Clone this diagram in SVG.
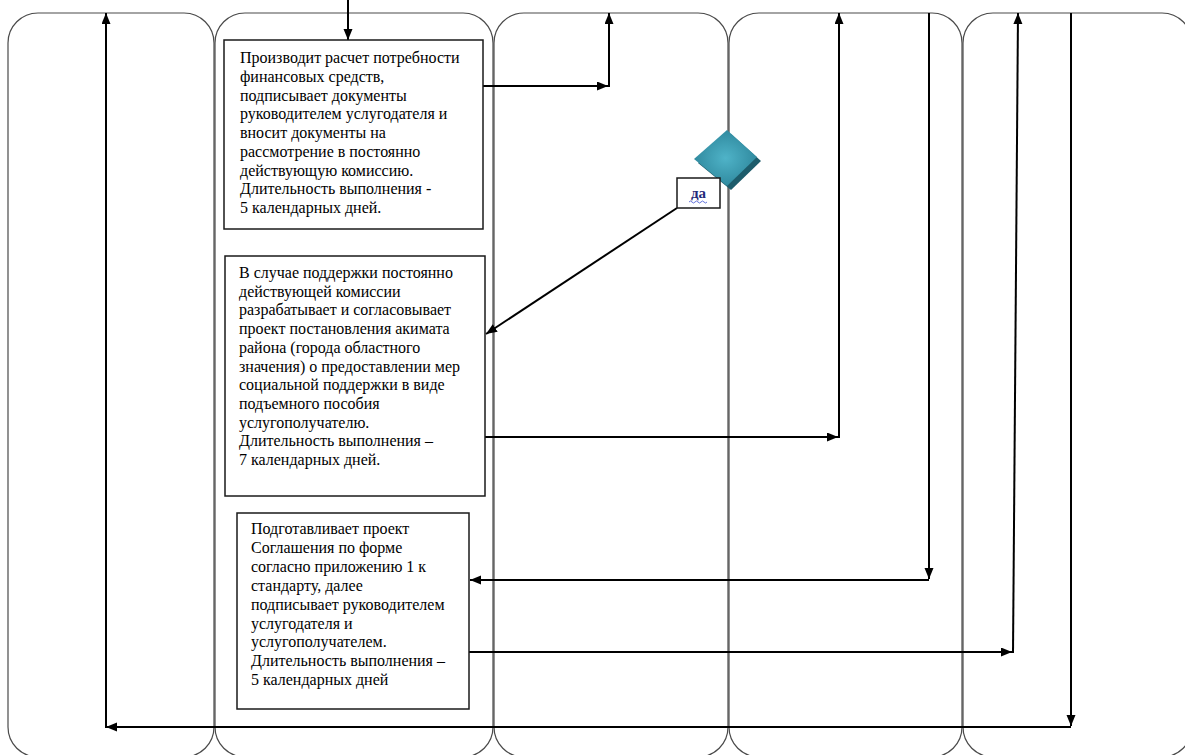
<svg xmlns="http://www.w3.org/2000/svg" width="1185" height="755" viewBox="0 0 1185 755">
<style>
.lane{fill:none;stroke:#4a4a4a;stroke-width:1.2}
.box{fill:#fff;stroke:#1a1a1a;stroke-width:1.5}
.t{font-family:"Liberation Serif","Times New Roman",serif;font-size:16px;fill:#000}
.ca{fill:none;stroke:#000;stroke-width:2;marker-end:url(#ah)}
</style>
<defs>
<marker id="ah" markerUnits="userSpaceOnUse" markerWidth="12" markerHeight="10" refX="11" refY="4.5" orient="auto"><path d="M0,0 L11,4.5 L0,9 z" fill="#000"/></marker>
<radialGradient id="dg" cx="0.5" cy="0.5" r="0.6"><stop offset="0" stop-color="#4fb3c8"/><stop offset="1" stop-color="#2a8297"/></radialGradient>
</defs>
<rect width="1185" height="755" fill="#fff"/>
<g id="lanes">
<rect id="lane1" class="lane" x="8" y="13" width="206" height="744" rx="30" ry="30"/>
<rect id="lane2" class="lane" x="215" y="13" width="278" height="744" rx="30" ry="30"/>
<rect id="lane3" class="lane" x="494" y="13" width="234" height="744" rx="30" ry="30"/>
<rect id="lane4" class="lane" x="729" y="13" width="233" height="744" rx="30" ry="30"/>
<rect id="lane5" class="lane" x="963" y="13" width="229" height="744" rx="30" ry="30"/>
</g>
<g id="connectors">
<line class="ca" x1="348" y1="0" x2="348" y2="40"/>
<line class="ca" x1="483" y1="86" x2="608" y2="86"/>
<line class="ca" x1="609" y1="87" x2="609" y2="13"/>
<line class="ca" x1="677" y1="208" x2="486" y2="334"/>
<line class="ca" x1="485" y1="437" x2="838" y2="437"/>
<line class="ca" x1="839" y1="438" x2="839" y2="13"/>
<line class="ca" x1="929" y1="13" x2="929" y2="579"/>
<line class="ca" x1="929" y1="580" x2="470" y2="580"/>
<line class="ca" x1="469" y1="652" x2="1012" y2="652"/>
<line class="ca" x1="1013" y1="653" x2="1018" y2="13"/>
<line class="ca" x1="1071" y1="13" x2="1071" y2="726"/>
<line class="ca" x1="1071" y1="727" x2="106" y2="727"/>
<line class="ca" x1="106" y1="728" x2="106" y2="13"/>
</g>
<g id="box1">
<rect class="box" x="224" y="40" width="259" height="189"/>
<text class="t" x="240" y="63">Производит расчет потребности</text>
<text class="t" x="240" y="81.75">финансовых средств,</text>
<text class="t" x="240" y="100.5">подписывает документы</text>
<text class="t" x="240" y="119.25">руководителем услугодателя и</text>
<text class="t" x="240" y="138">вносит документы на</text>
<text class="t" x="240" y="156.75">рассмотрение в постоянно</text>
<text class="t" x="240" y="175.5">действующую комиссию.</text>
<text class="t" x="240" y="194.25">Длительность выполнения -</text>
<text class="t" x="240" y="213">5 календарных дней.</text>
</g>
<g id="decision">
<polygon points="731,134 761,161 731,190 698,163" fill="#1d5c6b"/>
<polygon points="727,130 757,157 727,186 694,159" fill="url(#dg)"/>
</g>
<g id="label-da">
<rect class="box" x="677" y="178" width="43" height="30" stroke-width="1.3"/>
<text x="698.5" y="198" text-anchor="middle" font-family="Liberation Serif, Times New Roman, serif" font-size="15" font-weight="bold" fill="#1f2a7a">да</text>
<path d="M689,202 q1.5,-2 3,0 t3,0 t3,0 t3,0 t3,0 t3,0" fill="none" stroke="#3b4fd0" stroke-width="0.8"/>
</g>
<g id="box2">
<rect class="box" x="225" y="256" width="260" height="240"/>
<text class="t" x="239" y="278">В случае поддержки постоянно</text>
<text class="t" x="239" y="296.7">действующей комиссии</text>
<text class="t" x="239" y="315.4">разрабатывает и согласовывает</text>
<text class="t" x="239" y="334.1">проект постановления акимата</text>
<text class="t" x="239" y="352.8">района (города областного</text>
<text class="t" x="239" y="371.5">значения) о предоставлении мер</text>
<text class="t" x="239" y="390.2">социальной поддержки в виде</text>
<text class="t" x="239" y="408.9">подъемного пособия</text>
<text class="t" x="239" y="427.6">услугополучателю.</text>
<text class="t" x="239" y="446.3">Длительность выполнения –</text>
<text class="t" x="239" y="465">7 календарных дней.</text>
</g>
<g id="box3">
<rect class="box" x="237" y="513" width="232" height="196"/>
<text class="t" x="251" y="534">Подготавливает проект</text>
<text class="t" x="251" y="552.9">Соглашения по форме</text>
<text class="t" x="251" y="571.8">согласно приложению 1 к</text>
<text class="t" x="251" y="590.7">стандарту, далее</text>
<text class="t" x="251" y="609.6">подписывает руководителем</text>
<text class="t" x="251" y="628.5">услугодателя и</text>
<text class="t" x="251" y="647.4">услугополучателем.</text>
<text class="t" x="251" y="666.3">Длительность выполнения –</text>
<text class="t" x="251" y="685.2">5 календарных дней</text>
</g>
</svg>
